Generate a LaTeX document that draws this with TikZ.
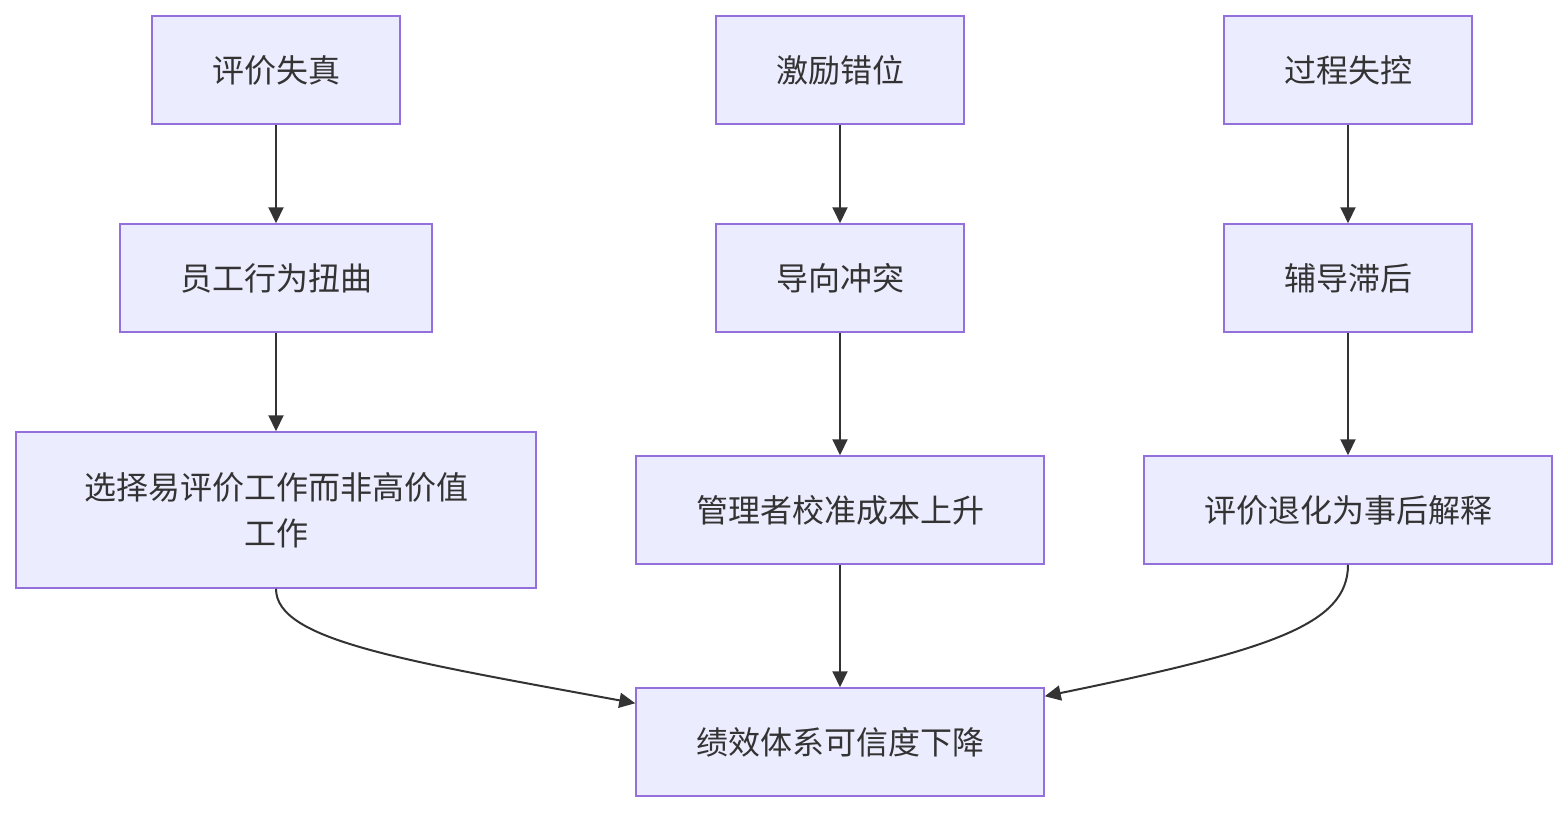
\documentclass[tikz,border=0pt]{standalone}
\usepackage{fontspec}
\setmainfont{Noto Sans CJK SC}
\usetikzlibrary{arrows.meta}
\definecolor{nodefill}{HTML}{ECECFF}
\definecolor{nodeline}{HTML}{9370DB}
\definecolor{ink}{HTML}{333333}
\begin{document}
\begin{tikzpicture}[x=1pt,y=-1pt,
  box/.style={draw=nodeline, fill=nodefill, line width=1.5pt, text=ink,
    minimum height=108pt, inner sep=0pt, align=center,
    font=\fontsize{32}{46}\selectfont},
  link/.style={draw=ink, line width=2pt, -{Triangle[length=16pt,width=15pt]}}]
\useasboundingbox (0,0) rectangle (1568,812);
\node[box, minimum width=248pt] (a1) at (276,70) {评价失真};
\node[box, minimum width=312pt] (a2) at (276,278) {员工行为扭曲};
\node[box, minimum width=520pt, minimum height=156pt] (a3) at (276,510) {选择易评价工作而非高价值\\工作};
\node[box, minimum width=248pt] (b1) at (840,70) {激励错位};
\node[box, minimum width=248pt] (b2) at (840,278) {导向冲突};
\node[box, minimum width=408pt] (b3) at (840,510) {管理者校准成本上升};
\node[box, minimum width=248pt] (c1) at (1348,70) {过程失控};
\node[box, minimum width=248pt] (c2) at (1348,278) {辅导滞后};
\node[box, minimum width=408pt] (c3) at (1348,510) {评价退化为事后解释};
\node[box, minimum width=408pt] (d) at (840,742) {绩效体系可信度下降};
\coordinate (dl) at ([yshift=-16pt]d.north west);
\coordinate (dr) at ([yshift=-9pt]d.north east);
\draw[link] (a1) -- (a2);
\draw[link] (a2) -- (a3);
\draw[link] (b1) -- (b2);
\draw[link] (b2) -- (b3);
\draw[link] (b3) -- (d);
\draw[link] (c1) -- (c2);
\draw[link] (c2) -- (c3);
\draw[link] (a3.south) .. controls (276,640) and (400,660) .. (dl);
\draw[link] (c3.south) .. controls (1348,625) and (1270,650) .. (dr);
\end{tikzpicture}
\end{document}
